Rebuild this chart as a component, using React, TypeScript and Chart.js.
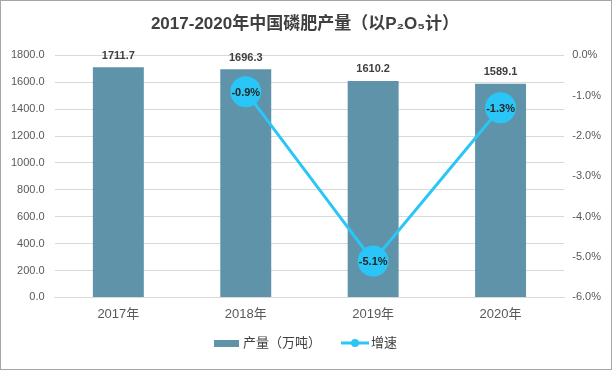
import React, { useEffect, useRef } from "react";
import { Chart, registerables } from "chart.js";

Chart.register(...registerables);

const categories = ["2017年", "2018年", "2019年", "2020年"];
const output = [1711.7, 1696.3, 1610.2, 1589.1];
const growth: (number | null)[] = [null, -0.9, -5.1, -1.3];
const barLabel = "产量（万吨）";
const lineLabel = "增速";
const titleText = "2017-2020年中国磷肥产量（以P₂O₅计）";

const BAR_COLOR = "#5E93AA";
const LINE_COLOR = "#29C6F7";
const FONT = "'Liberation Sans', 'Noto Sans CJK SC', sans-serif";

const labelsPlugin = {
  id: "customLabels",
  afterDatasetsDraw(chart: any) {
    const ctx = chart.ctx;
    ctx.save();
    const barMeta = chart.getDatasetMeta(1);
    ctx.font = `bold 11px ${FONT}`;
    ctx.fillStyle = "#404040";
    ctx.textAlign = "center";
    ctx.textBaseline = "bottom";
    barMeta.data.forEach((el: any, i: number) => {
      ctx.fillText(output[i].toFixed(1), el.x, el.y - 6);
    });
    const lineMeta = chart.getDatasetMeta(0);
    ctx.textBaseline = "middle";
    ctx.fillStyle = "#262626";
    lineMeta.data.forEach((el: any, i: number) => {
      const v = growth[i];
      if (v === null) return;
      ctx.fillText(v.toFixed(1) + "%", el.x, el.y + 1);
    });
    ctx.restore();
  },
  afterDraw(chart: any) {
    const ctx = chart.ctx;
    ctx.save();
    const cy = 342;
    const cx = chart.width / 2;
    ctx.font = `13px ${FONT}`;
    ctx.textBaseline = "middle";
    ctx.textAlign = "left";
    ctx.fillStyle = "#404040";
    const w1 = ctx.measureText(barLabel).width;
    const w2 = ctx.measureText(lineLabel).width;
    const total = 26 + 4 + w1 + 20 + 28 + 2 + w2;
    let x = cx - total / 2;
    ctx.fillStyle = BAR_COLOR;
    ctx.fillRect(x, cy - 3, 25, 7);
    x += 29;
    ctx.fillStyle = "#404040";
    ctx.fillText(barLabel, x, cy);
    x += w1 + 20;
    ctx.strokeStyle = LINE_COLOR;
    ctx.lineWidth = 3;
    ctx.beginPath();
    ctx.moveTo(x, cy);
    ctx.lineTo(x + 28, cy);
    ctx.stroke();
    ctx.fillStyle = LINE_COLOR;
    ctx.beginPath();
    ctx.arc(x + 14, cy, 4, 0, Math.PI * 2);
    ctx.fill();
    x += 30;
    ctx.fillStyle = "#404040";
    ctx.fillText(lineLabel, x, cy);
    ctx.restore();
  },
};

export default function App() {
  const ref = useRef<HTMLCanvasElement>(null);
  useEffect(() => {
    document.body.style.margin = "0";
    const chart = new Chart(ref.current!, {
      type: "bar",
      data: {
        labels: categories,
        datasets: [
          {
            type: "line",
            label: lineLabel,
            data: growth,
            yAxisID: "y1",
            borderColor: LINE_COLOR,
            backgroundColor: LINE_COLOR,
            borderWidth: 3,
            pointRadius: 14,
            pointHoverRadius: 14,
            pointBackgroundColor: LINE_COLOR,
            pointBorderColor: LINE_COLOR,
            order: 0,
          } as any,
          {
            type: "bar",
            label: barLabel,
            data: output,
            yAxisID: "y",
            backgroundColor: BAR_COLOR,
            barPercentage: 0.4,
            categoryPercentage: 1,
            order: 1,
          },
        ],
      },
      plugins: [labelsPlugin],
      options: {
        responsive: false,
        animation: false,
        layout: { padding: { left: 0, right: 2, top: 0, bottom: 46 } },
        plugins: {
          legend: { display: false },
          tooltip: { enabled: false },
          title: {
            display: true,
            text: titleText,
            color: "#404040",
            font: { family: FONT, size: 17, weight: "bold" },
            padding: { top: 13, bottom: 21 },
          },
        },
        scales: {
          x: {
            grid: { display: false },
            border: { color: "#D9D9D9" },
            ticks: { color: "#595959", font: { family: FONT, size: 13 }, padding: 1 },
          },
          y: {
            position: "left",
            min: 0,
            max: 1800,
            ticks: {
              stepSize: 200,
              color: "#595959",
              font: { family: FONT, size: 11 },
              padding: 10,
              callback: (v: any) => Number(v).toFixed(1),
            },
            grid: { color: "#D9D9D9", drawTicks: false },
            border: { display: false },
          },
          y1: {
            position: "right",
            min: -6,
            max: 0,
            ticks: {
              stepSize: 1,
              color: "#595959",
              font: { family: FONT, size: 11 },
              padding: 8,
              callback: (v: any) => Number(v).toFixed(1) + "%",
            },
            grid: { display: false, drawTicks: false },
            border: { display: false },
          },
        },
      },
    });
    return () => chart.destroy();
  }, []);
  return (
    <div
      style={{
        position: "absolute",
        left: 0,
        top: 0,
        width: 612,
        height: 370,
        boxSizing: "border-box",
        border: "1px solid #A6A6A6",
        background: "#fff",
      }}
    >
      <canvas ref={ref} width={610} height={368} />
    </div>
  );
}
